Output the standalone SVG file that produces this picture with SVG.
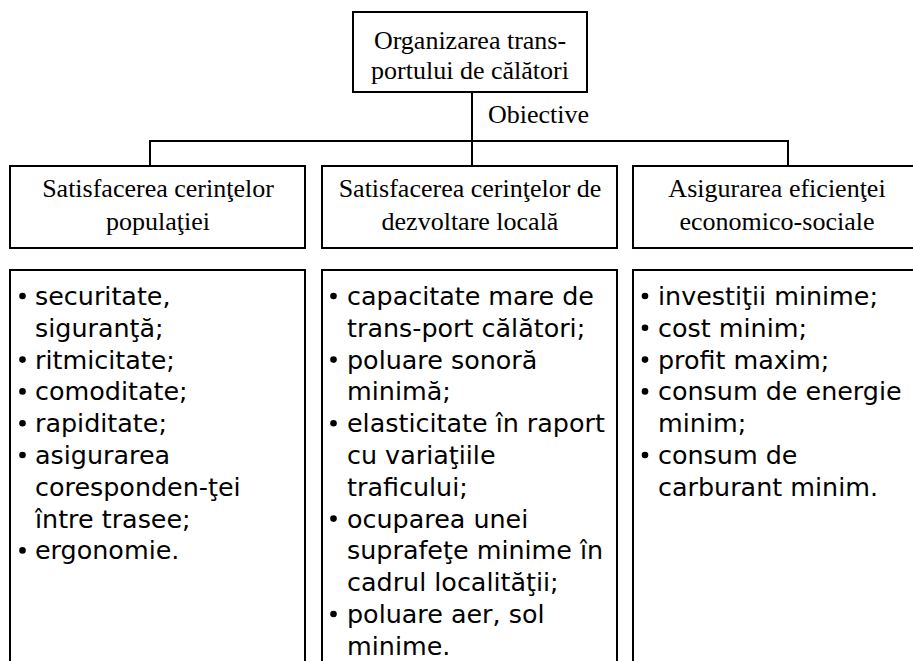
<svg xmlns="http://www.w3.org/2000/svg" width="913" height="661" viewBox="0 0 913 661">
<style>
.box{fill:#fff;stroke:#000;stroke-width:2}
.ln{fill:none;stroke:#000;stroke-width:2}
.h{font-family:"Liberation Serif","Times New Roman",serif;font-size:26px;fill:#000;text-anchor:middle}
.lab{font-family:"Liberation Serif","Times New Roman",serif;font-size:26px;fill:#000}
.t{font-family:"DejaVu Sans",Verdana,sans-serif;font-size:25.4px;fill:#000}
.b{fill:#000}
</style>
<rect width="913" height="661" fill="#fff"/>
<g id="connectors">
<path class="ln" d="M472 92V166M150 166V141H788V166"/>
<text class="lab" x="488" y="123">Obiective</text>
</g>
<g id="root">
<rect class="box" x="353" y="12" width="234" height="80"/>
<text class="h" x="470" y="49">Organizarea trans-</text>
<text class="h" x="470" y="79">portului de călători</text>
</g>
<g id="obj1">
<rect class="box" x="10" y="166" width="295" height="82"/>
<text class="h" x="158" y="197">Satisfacerea cerinţelor</text>
<text class="h" x="158" y="229.5">populaţiei</text>
</g>
<g id="obj2">
<rect class="box" x="322" y="166" width="295" height="82"/>
<text class="h" x="470" y="197">Satisfacerea cerinţelor de</text>
<text class="h" x="470" y="229.5">dezvoltare locală</text>
</g>
<g id="obj3">
<rect class="box" x="633" y="166" width="287" height="82"/>
<text class="h" x="777" y="197">Asigurarea eficienţei</text>
<text class="h" x="777" y="229.5">economico-sociale</text>
</g>
<g id="list1">
<path class="ln" d="M10 665V270H305V665"/>
<circle class="b" cx="22.5" cy="296" r="3.3"/>
<circle class="b" cx="22.5" cy="359.6" r="3.3"/>
<circle class="b" cx="22.5" cy="391.4" r="3.3"/>
<circle class="b" cx="22.5" cy="423.2" r="3.3"/>
<circle class="b" cx="22.5" cy="455" r="3.3"/>
<circle class="b" cx="22.5" cy="550.4" r="3.3"/>
<text class="t" x="35" y="305">securitate,</text>
<text class="t" x="35" y="336.8">siguranţă;</text>
<text class="t" x="35" y="368.6">ritmicitate;</text>
<text class="t" x="35" y="400.4">comoditate;</text>
<text class="t" x="35" y="432.2">rapiditate;</text>
<text class="t" x="35" y="464">asigurarea</text>
<text class="t" x="35" y="495.8">coresponden-ţei</text>
<text class="t" x="35" y="527.6">între trasee;</text>
<text class="t" x="35" y="559.4">ergonomie.</text>
</g>
<g id="list2">
<path class="ln" d="M322 665V270H617V665"/>
<circle class="b" cx="333.5" cy="296" r="3.3"/>
<circle class="b" cx="333.5" cy="359.6" r="3.3"/>
<circle class="b" cx="333.5" cy="423.2" r="3.3"/>
<circle class="b" cx="333.5" cy="518.6" r="3.3"/>
<circle class="b" cx="333.5" cy="614" r="3.3"/>
<text class="t" x="347" y="305">capacitate mare de</text>
<text class="t" x="347" y="336.8">trans-port călători;</text>
<text class="t" x="347" y="368.6">poluare sonoră</text>
<text class="t" x="347" y="400.4">minimă;</text>
<text class="t" x="347" y="432.2">elasticitate în raport</text>
<text class="t" x="347" y="464">cu variaţiile</text>
<text class="t" x="347" y="495.8">traficului;</text>
<text class="t" x="347" y="527.6">ocuparea unei</text>
<text class="t" x="347" y="559.4">suprafeţe minime în</text>
<text class="t" x="347" y="591.2">cadrul localităţii;</text>
<text class="t" x="347" y="623">poluare aer, sol</text>
<text class="t" x="347" y="654.8">minime.</text>
</g>
<g id="list3">
<path class="ln" d="M633 665V270H920V665"/>
<circle class="b" cx="645" cy="296" r="3.3"/>
<circle class="b" cx="645" cy="327.8" r="3.3"/>
<circle class="b" cx="645" cy="359.6" r="3.3"/>
<circle class="b" cx="645" cy="391.4" r="3.3"/>
<circle class="b" cx="645" cy="455" r="3.3"/>
<text class="t" x="658" y="305">investiţii minime;</text>
<text class="t" x="658" y="336.8">cost minim;</text>
<text class="t" x="658" y="368.6">profit maxim;</text>
<text class="t" x="658" y="400.4">consum de energie</text>
<text class="t" x="658" y="432.2">minim;</text>
<text class="t" x="658" y="464">consum de</text>
<text class="t" x="658" y="495.8">carburant minim.</text>
</g>
</svg>
